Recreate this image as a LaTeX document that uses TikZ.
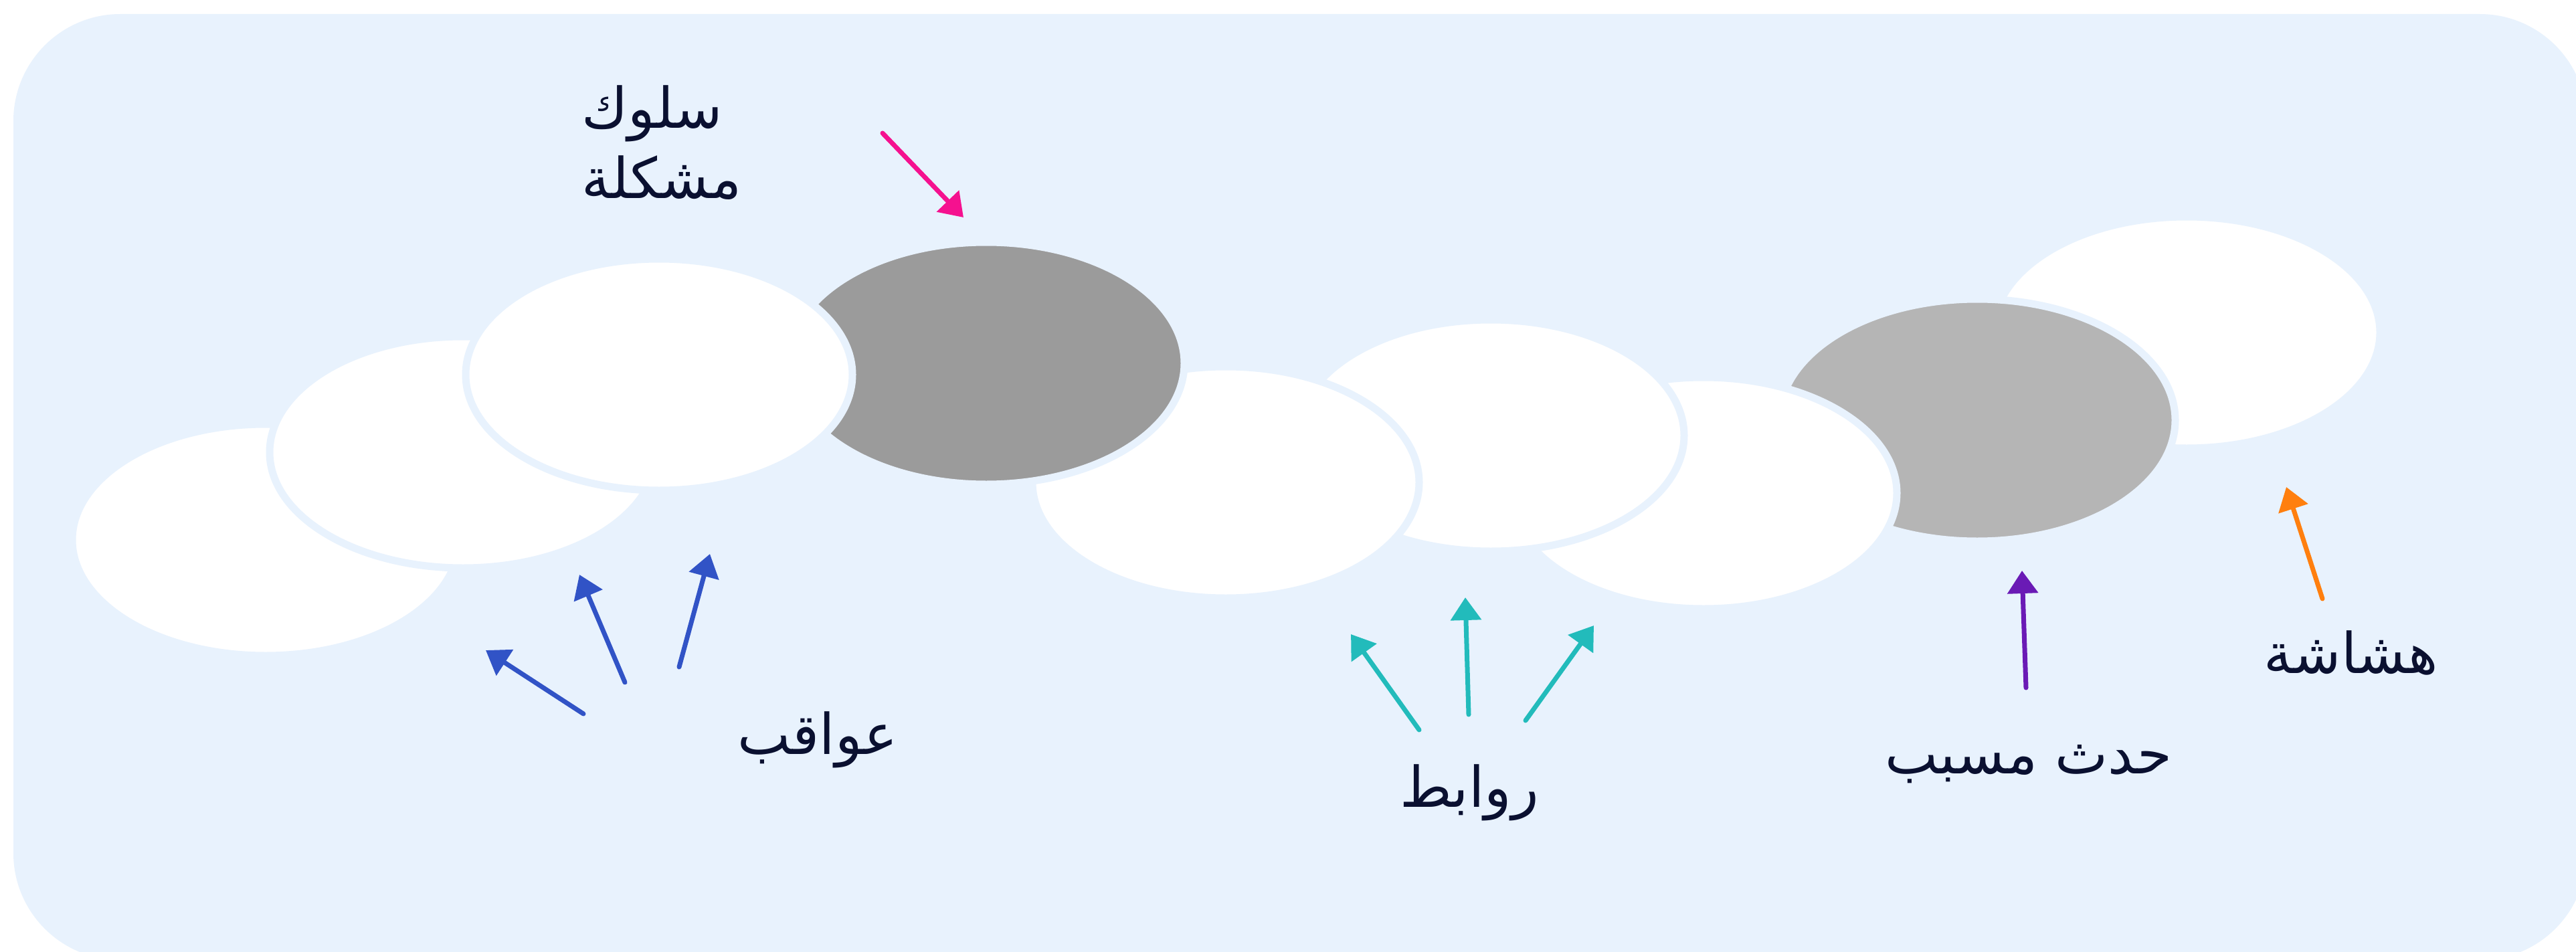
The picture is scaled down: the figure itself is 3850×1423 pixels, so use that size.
\documentclass[tikz,border=0pt]{standalone}
\usepackage{fontspec}
\usetikzlibrary{shapes.geometric,arrows.meta}
\newfontfamily\arabicfont[Script=Arabic]{DejaVu Sans}
\TeXXeTstate=1
\definecolor{panel}{HTML}{E8F2FD}
\definecolor{ink}{HTML}{0A1030}
\definecolor{grayA}{HTML}{9B9B9B}
\definecolor{grayB}{HTML}{B5B5B5}
\definecolor{pinkC}{HTML}{F5118F}
\definecolor{blueC}{HTML}{3153C6}
\definecolor{tealC}{HTML}{22BBBB}
\definecolor{purpleC}{HTML}{6A1AB5}
\definecolor{orangeC}{HTML}{FF7F0E}
\begin{document}
\begin{tikzpicture}[x=1pt,y=-1pt,
  blob/.style={ellipse, inner sep=0pt, minimum width=578pt, minimum height=346pt,
               fill=white, draw=panel, line width=11pt},
  hot/.style={blob, minimum width=592pt, minimum height=362pt},
  lbl/.style={inner sep=0pt, anchor=base, text=ink, font=\arabicfont\fontsize{84}{105}\selectfont},
  ptr/.style={line width=7pt, line cap=round, -{Triangle[length=34pt,width=45pt]}}]

% page and panel
\useasboundingbox (0,0) rectangle (3850,1423);
\clip (0,0) rectangle (3850,1423);
\fill[white] (0,0) rectangle (3850,1423);
\fill[panel, rounded corners=160pt] (20,21) rectangle (3866,1435);

% chain of ellipses, drawn back to front
\node[blob] (e9) at (3268,497) {};
\node[hot, fill=grayB] (e8) at (2955,628) {};
\node[blob] (e7) at (2546,737) {};
\node[blob] (e6) at (2228,651) {};
\node[blob] (e5) at (1832,721) {};
\node[hot, fill=grayA] (e4) at (1474,543) {};
\node[blob] (e1) at (397,807) {};
\node[blob] (e2) at (692,676) {};
\node[blob] (e3) at (985,560) {};

% labels (placed by their baselines; the two-line one by its last line)
\node[lbl, anchor=base west, align=left] (problem) at (869,297) {\beginR سلوك\endR\\\beginR مشكلة\endR};
\node[lbl] (conseq) at (1222,1127) {\beginR عواقب\endR};
\node[lbl] (links) at (2196,1206) {\beginR روابط\endR};
\node[lbl] (trigger) at (3032,1156) {\beginR حدث مسبب\endR};
\node[lbl] (fragile) at (3514,1006) {\beginR هشاشة\endR};

% arrow end points
\coordinate (k0) at (1319,199);  \coordinate (k1) at (1440,325);
\coordinate (a0) at (872,1067);  \coordinate (a1) at (726,972);
\coordinate (b0) at (934,1020);  \coordinate (b1) at (866,859);
\coordinate (c0) at (1015,997);  \coordinate (c1) at (1061,828);
\coordinate (t0) at (2121,1091); \coordinate (t1) at (2019,948);
\coordinate (u0) at (2195,1068); \coordinate (u1) at (2190,893);
\coordinate (v0) at (2280,1077); \coordinate (v1) at (2382,935);
\coordinate (p0) at (3028,1028); \coordinate (p1) at (3022,853);
\coordinate (o0) at (3471,895);  \coordinate (o1) at (3417,728);

% arrows
\draw[ptr, pinkC] (k0) -- (k1);
\draw[ptr, blueC] (a0) -- (a1);
\draw[ptr, blueC] (b0) -- (b1);
\draw[ptr, blueC] (c0) -- (c1);
\draw[ptr, tealC] (t0) -- (t1);
\draw[ptr, tealC] (u0) -- (u1);
\draw[ptr, tealC] (v0) -- (v1);
\draw[ptr, purpleC] (p0) -- (p1);
\draw[ptr, orangeC] (o0) -- (o1);
\end{tikzpicture}
\end{document}
